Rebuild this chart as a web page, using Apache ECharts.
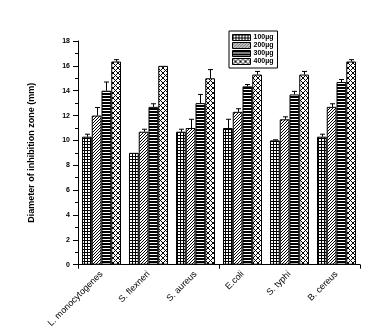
<!DOCTYPE html>
<html><head><meta charset="utf-8">
<script src="https://cdn.jsdelivr.net/npm/echarts@6/dist/echarts.min.js"></script>
<style>html,body{margin:0;padding:0;background:#fff}#c{width:385px;height:330px}</style>
</head><body><div id="c"></div>
<script>
const categories = ['L. monocytogenes', 'S. flexneri', 'S. aureus', 'E.coli', 'S. typhi', 'B. cereus'];
const seriesNames = ['100µg', '200µg', '300µg', '400µg'];
const values100 = [10.3, 9.0, 10.7, 11.0, 10.0, 10.3];
const values200 = [12.0, 10.7, 11.0, 12.3, 11.7, 12.7];
const values300 = [14.0, 12.7, 13.0, 14.35, 13.7, 14.7];
const values400 = [16.35, 16.0, 15.0, 15.3, 15.3, 16.35];
const err100 = [0.2, 0, 0.2, 0.7, 0.05, 0.2];
const err200 = [0.65, 0.2, 0.7, 0.25, 0.2, 0.25];
const err300 = [0.7, 0.25, 0.7, 0.15, 0.25, 0.2];
const err400 = [0.15, 0, 0.7, 0.25, 0.25, 0.15];
const yTicks = [0, 2, 4, 6, 8, 10, 12, 14, 16, 18];

const allValues = [values100, values200, values300, values400];
const allErrs = [err100, err200, err300, err400];

function pattern(size, fn) {
  const c = document.createElement('canvas');
  c.width = size[0]; c.height = size[1];
  const ctx = c.getContext('2d');
  const img = ctx.createImageData(size[0], size[1]);
  for (let y = 0; y < size[1]; y++) for (let x = 0; x < size[0]; x++) {
    const v = fn(x, y) ? 0 : 255;
    const i = (y * size[0] + x) * 4;
    img.data[i] = v; img.data[i+1] = v; img.data[i+2] = v; img.data[i+3] = 255;
  }
  ctx.putImageData(img, 0, 0);
  return { image: c, repeat: 'repeat' };
}
const fills = [
  pattern([3, 3], (x, y) => x === 0 || y === 0),
  pattern([3, 3], (x, y) => (x + y) % 3 === 2),
  pattern([1, 3], (x, y) => y < 2),
  pattern([5, 5], (x, y) => (x + y) % 5 === 0 || ((x - y) % 5 + 5) % 5 === 0)
];

const GAP = 0.17;
const chart = echarts.init(document.getElementById('c'), null, { renderer: 'canvas' });
const series = [];
seriesNames.forEach((n, i) => {
  series.push({
    name: n, type: 'bar', data: allValues[i],
    barGap: '0%', barCategoryGap: (GAP * 100) + '%',
    itemStyle: { color: fills[i], borderColor: '#000', borderWidth: 1 },
    emphasis: { disabled: true }, z: 2
  });
});
seriesNames.forEach((n, i) => {
  series.push({
    type: 'custom', name: n + ' err',
    data: allValues[i].map((v, k) => [k, v, allErrs[i][k]]),
    encode: { x: 0, y: 1 }, z: 3, silent: true,
    renderItem: function (params, api) {
      const e = api.value(2);
      if (!e) return null;
      const base = api.coord([api.value(0), api.value(1)]);
      const top = api.coord([api.value(0), api.value(1) + e]);
      const band = api.size([1, 0])[0];
      const bw = band * (1 - GAP) / 4;
      const cx = Math.round(base[0] + (i - 1.5) * bw) + 0.5;
      return {
        type: 'group', children: [
          { type: 'line', shape: { x1: cx, y1: base[1], x2: cx, y2: top[1] }, style: { stroke: '#000', lineWidth: 1 } },
          { type: 'line', shape: { x1: cx - 2.5, y1: top[1], x2: cx + 2.5, y2: top[1] }, style: { stroke: '#000', lineWidth: 1 } }
        ]
      };
    }
  });
});

chart.setOption({
  animation: false,
  backgroundColor: '#fff',
  textStyle: { fontFamily: 'Liberation Sans, Arial, sans-serif' },
  grid: { left: 78, right: 25, top: 41, bottom: 64 },
  legend: {
    data: seriesNames, orient: 'vertical', left: 229, top: 31,
    itemWidth: 18, itemHeight: 6, itemGap: 1, icon: 'rect',
    padding: [3, 4, 3, 3], borderColor: '#000', borderWidth: 1,
    itemStyle: { borderColor: '#000', borderWidth: 1 },
    textStyle: { fontSize: 7, fontWeight: 'bold', color: '#000', padding: [0, 0, 0, -2] },
    selectedMode: false
  },
  xAxis: [{
    type: 'category', data: categories,
    axisLine: { lineStyle: { color: '#000', width: 1 } },
    axisTick: { show: false },
    axisLabel: { rotate: 45, fontSize: 9, color: '#000', margin: 8, interval: 0 }
  }, {
    type: 'category', data: categories.flatMap(c => [c + 'a', c + 'b']),
    position: 'bottom',
    axisLine: { show: false },
    axisTick: { show: true, length: 4, lineStyle: { color: '#000' } },
    axisLabel: { show: false }
  }],
  yAxis: {
    type: 'value', min: 0, max: 18, interval: 2,
    name: 'Diameter of inhibition zone (mm)', nameLocation: 'middle', nameGap: 42,
    nameTextStyle: { fontSize: 9, fontWeight: 'bold', color: '#000' },
    axisLine: { show: true, lineStyle: { color: '#000', width: 1 } },
    axisTick: { show: true, length: 5, lineStyle: { color: '#000' } },
    minorTick: { show: true, splitNumber: 2, length: 3, lineStyle: { color: '#000' } },
    splitLine: { show: false },
    axisLabel: { fontSize: 7, fontWeight: 'bold', color: '#000', margin: 8,
      formatter: v => yTicks.includes(v) ? String(v) : '' }
  },
  series: series
});
</script></body></html>
